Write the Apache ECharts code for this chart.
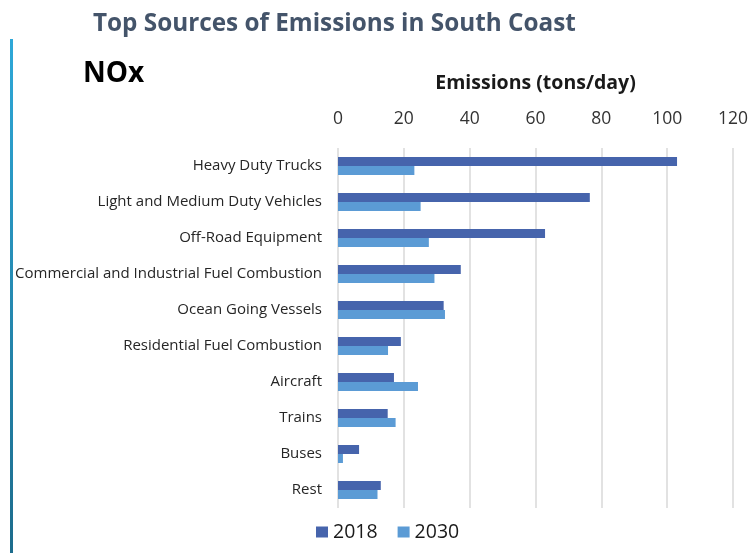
<!DOCTYPE html>
<html>
<head>
<meta charset="utf-8">
<script src="https://cdn.jsdelivr.net/npm/echarts@6/dist/echarts.min.js"></script>
<style>html,body{margin:0;padding:0;background:#fff;}#c{width:753px;height:553px;}</style>
</head>
<body>
<div id="c"></div>
<script>
const categories = ["Heavy Duty Trucks","Light and Medium Duty Vehicles","Off-Road Equipment","Commercial and Industrial Fuel Combustion","Ocean Going Vessels","Residential Fuel Combustion","Aircraft","Trains","Buses","Rest"];
const values2018 = [103.0, 76.5, 62.9, 37.3, 32.1, 19.1, 17.0, 15.1, 6.4, 13.0];
const values2030 = [23.2, 25.1, 27.6, 29.3, 32.5, 15.2, 24.3, 17.5, 1.5, 12.0];
const seriesNames = ["2018","2030"];

const FONT = "Open Sans";
const chart = echarts.init(document.getElementById('c'));
chart.setOption({
  animation: false,
  backgroundColor: '#fff',
  title: [
    { text: 'Top Sources of Emissions in South Coast', left: 88, top: 7,
      textStyle: { fontFamily: FONT, fontWeight: 'bold', fontSize: 24.3, color: '#44546A' } },
    { text: 'NOx', left: 78, top: 55,
      textStyle: { fontFamily: FONT, fontWeight: 'bold', fontSize: 28, color: '#000' } }
  ],
  graphic: [{
    type: 'rect', left: 10, top: 39, shape: { width: 3, height: 514 },
    style: { fill: new echarts.graphic.LinearGradient(0,0,0,1,[{offset:0,color:'#2EA8D8'},{offset:1,color:'#1D6C8C'}]) }
  }],
  legend: {
    data: seriesNames, left: 316, top: 522, padding: 0, itemWidth: 12, itemHeight: 11, itemGap: 20,
    icon: 'rect',
    textStyle: { fontFamily: FONT, fontSize: 19.5, color: '#1a1a1a' }
  },
  grid: { left: 338, right: 20, top: 148, bottom: 45 },
  xAxis: {
    type: 'value', position: 'top', min: 0, max: 120, interval: 20,
    name: 'Emissions (tons/day)', nameLocation: 'middle', nameGap: 55,
    nameTextStyle: { fontFamily: FONT, fontWeight: 'bold', fontSize: 19.5, color: '#1a1a1a' },
    axisLine: { show: false }, axisTick: { show: false },
    axisLabel: { fontFamily: FONT, fontSize: 17.5, color: '#333', margin: 20 },
    splitLine: { show: true, lineStyle: { color: '#D9D9D9', width: 1.5 } }
  },
  yAxis: {
    type: 'category', data: categories, inverse: true,
    axisLine: { show: false }, axisTick: { show: false },
    axisLabel: { fontFamily: FONT, fontSize: 15, color: '#262626', margin: 16, padding: [2, 0, 0, 0] }
  },
  series: [
    { name: seriesNames[0], type: 'bar', data: values2018, barWidth: 9, barGap: '0%',
      itemStyle: { color: '#4664AC' } },
    { name: seriesNames[1], type: 'bar', data: values2030, barWidth: 9, barGap: '0%',
      itemStyle: { color: '#5B9BD5' } }
  ]
});
</script>
</body>
</html>
